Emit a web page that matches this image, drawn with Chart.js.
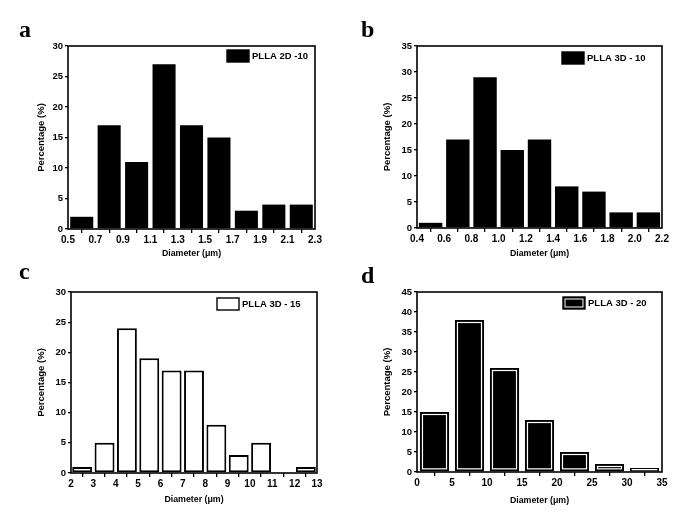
<!DOCTYPE html>
<html>
<head>
<meta charset="utf-8">
<script src="https://cdn.jsdelivr.net/npm/chart.js@4.4.0/dist/chart.umd.min.js"></script>
<style>
  body { margin: 0; background: #fff; }
  #page { position: relative; width: 673px; height: 515px; overflow: hidden; background: #fff; }
  .panel { position: absolute; }
  .tag { position: absolute; font-family: 'Liberation Serif', serif; font-weight: bold; font-size: 24px; line-height: 24px; color: #000; }
</style>
</head>
<body>
<div id="page">
  <div class="panel" style="left:0;top:0;width:336px;height:262px"><canvas id="chartA"></canvas></div>
  <div class="panel" style="left:340px;top:0;width:333px;height:262px"><canvas id="chartB"></canvas></div>
  <div class="panel" style="left:0;top:262px;width:336px;height:253px"><canvas id="chartC"></canvas></div>
  <div class="panel" style="left:340px;top:262px;width:333px;height:253px"><canvas id="chartD"></canvas></div>
  <div class="tag" style="left:19px;top:17px">a</div>
  <div class="tag" style="left:361px;top:17px">b</div>
  <div class="tag" style="left:19px;top:259px">c</div>
  <div class="tag" style="left:361px;top:263px">d</div>
</div>
<script>
// bin centres (um) and percentages
const diamA = [0.6, 0.8, 1.0, 1.2, 1.4, 1.6, 1.8, 2.0, 2.2];
const pctA = [2, 17, 11, 27, 17, 15, 3, 4, 4];

const diamB = [0.5, 0.7, 0.9, 1.1, 1.3, 1.5, 1.7, 1.9, 2.1];
const pctB = [1, 17, 29, 15, 17, 8, 7, 3, 3];

const diamC = [2.5, 3.5, 4.5, 5.5, 6.5, 7.5, 8.5, 9.5, 10.5, 11.5, 12.5];
const pctC = [1, 5, 24, 19, 17, 17, 8, 3, 5, 0, 1];

const diamD = [2.5, 7.5, 12.5, 17.5, 22.5, 27.5, 32.5];
const pctD = [15, 38, 26, 13, 5, 2, 1];

const labelA = 'PLLA 2D -10';
const labelB = 'PLLA 3D - 10';
const labelC = 'PLLA 3D - 15';
const labelD = 'PLLA 3D - 20';

Chart.defaults.font.family = "'Liberation Sans', Arial, sans-serif";
Chart.defaults.font.weight = 'bold';
Chart.defaults.font.size = 9.5;
Chart.defaults.color = '#000';
Chart.defaults.animation = false;

// frame, white inner line on bars, and the little legend box
const histoDecor = {
    id: 'histoDecor',
    afterDatasetsDraw(chart, args, opts) {
        const ctx = chart.ctx;
        const area = chart.chartArea;
        if (opts.doubleBorder) {
            ctx.save();
            ctx.strokeStyle = '#fff';
            ctx.lineWidth = 1.2;
            chart.getDatasetMeta(0).data.forEach(bar => {
                const p = bar.getProps(['x', 'y', 'base', 'width'], true);
                const h = Math.abs(p.base - p.y);
                if (h < 1) return;
                const i = Math.min(2.5, h / 2);
                ctx.strokeRect(p.x - p.width / 2 + i, Math.min(p.y, p.base) + i, p.width - 2 * i, Math.max(h - 2 * i, 0));
            });
            ctx.restore();
        }
        ctx.save();
        ctx.strokeStyle = '#000';
        ctx.lineWidth = 1.6;
        ctx.strokeRect(area.left, area.top, area.right - area.left, area.bottom - area.top);

        // legend
        const bx = area.right - opts.dx;
        const by = area.top + opts.dy;
        const bw = 22, bh = 12;
        ctx.fillStyle = opts.fill;
        ctx.fillRect(bx, by, bw, bh);
        ctx.lineWidth = 1.4;
        ctx.strokeStyle = '#000';
        ctx.strokeRect(bx, by, bw, bh);
        if (opts.doubleBorder) {
            ctx.strokeStyle = '#fff';
            ctx.lineWidth = 1;
            ctx.strokeRect(bx + 2, by + 2, bw - 4, bh - 4);
        }
        ctx.fillStyle = '#000';
        ctx.font = "bold 9.5px 'Liberation Sans', Arial, sans-serif";
        ctx.textBaseline = 'middle';
        ctx.textAlign = 'left';
        ctx.fillText(opts.text, bx + bw + 3, by + bh / 2 + 0.5);
        ctx.restore();
    }
};

function makeHisto(id, cfg) {
    const points = cfg.x.map((v, i) => ({x: v, y: cfg.y[i]}));
    return new Chart(document.getElementById(id), {
        type: 'bar',
        data: {
            datasets: [{
                data: points,
                backgroundColor: cfg.fill,
                borderColor: '#000',
                borderWidth: cfg.border,
                borderSkipped: false,
                barPercentage: cfg.barPct,
                categoryPercentage: 1.0
            }]
        },
        options: {
            responsive: true,
            maintainAspectRatio: false,
            layout: { padding: cfg.padding },
            plugins: {
                legend: { display: false },
                tooltip: { enabled: false },
                histoDecor: {
                    text: cfg.label,
                    dx: cfg.legendDx,
                    dy: cfg.legendDy,
                    fill: cfg.legendFill,
                    doubleBorder: cfg.doubleBorder
                }
            },
            scales: {
                x: {
                    type: 'linear',
                    offset: false,
                    min: cfg.xMin,
                    max: cfg.xMax,
                    border: { display: false },
                    grid: { drawOnChartArea: false, drawTicks: true, tickLength: 4, tickColor: '#000', lineWidth: 1.3 },
                    ticks: {
                        stepSize: cfg.xStep,
                        padding: 1,
                        maxRotation: 0,
                        autoSkip: false,
                        font: { size: 10 },
                        callback: v => cfg.xDigits ? v.toFixed(cfg.xDigits) : Math.round(v)
                    },
                    title: { display: true, text: 'Diameter (\u03bcm)', padding: { top: 0, bottom: cfg.xTitlePad }, font: { size: 8.8 } },
                    afterFit: s => { s.height = cfg.xHeight; }
                },
                y: {
                    min: 0,
                    max: cfg.yMax,
                    border: { display: false },
                    grid: { drawOnChartArea: false, drawTicks: true, tickLength: 3, tickColor: '#000', lineWidth: 1.3 },
                    ticks: { stepSize: 5, padding: 2 },
                    title: { display: true, text: 'Percentage (%)', padding: { top: cfg.yTitlePad, bottom: 0 }, font: { size: 9.5 } },
                    afterFit: s => { s.width = cfg.yWidth; }
                }
            }
        },
        plugins: [histoDecor]
    });
}

makeHisto('chartA', {
    x: diamA, y: pctA, xMin: 0.5, xMax: 2.3, xStep: 0.2, xDigits: 1, yMax: 30,
    fill: '#000', border: 0, barPct: 0.84, doubleBorder: false,
    padding: { left: 0, top: 46, right: 21, bottom: 0 },
    yWidth: 68, xHeight: 33, yTitlePad: 36, xTitlePad: 3,
    label: labelA, legendDx: 88, legendDy: 4, legendFill: '#000'
});

makeHisto('chartB', {
    x: diamB, y: pctB, xMin: 0.4, xMax: 2.2, xStep: 0.2, xDigits: 1, yMax: 35,
    fill: '#000', border: 0, barPct: 0.86, doubleBorder: false,
    padding: { left: 0, top: 46, right: 11, bottom: 0 },
    yWidth: 77, xHeight: 34, yTitlePad: 42, xTitlePad: 3,
    label: labelB, legendDx: 100, legendDy: 6, legendFill: '#000'
});

makeHisto('chartC', {
    x: diamC, y: pctC, xMin: 2, xMax: 13, xStep: 1, xDigits: 0, yMax: 30,
    fill: '#fff', border: 2, barPct: 0.89, doubleBorder: false,
    padding: { left: 0, top: 30, right: 19, bottom: 0 },
    yWidth: 71, xHeight: 42, yTitlePad: 36, xTitlePad: 10,
    label: labelC, legendDx: 100, legendDy: 6, legendFill: '#fff'
});

makeHisto('chartD', {
    x: diamD, y: pctD, xMin: 0, xMax: 35, xStep: 5, xDigits: 0, yMax: 45,
    fill: '#000', border: 0, barPct: 0.83, doubleBorder: true,
    padding: { left: 0, top: 30, right: 11, bottom: 0 },
    yWidth: 77, xHeight: 43, yTitlePad: 42, xTitlePad: 9,
    label: labelD, legendDx: 99, legendDy: 5, legendFill: '#000'
});
</script>
</body>
</html>
